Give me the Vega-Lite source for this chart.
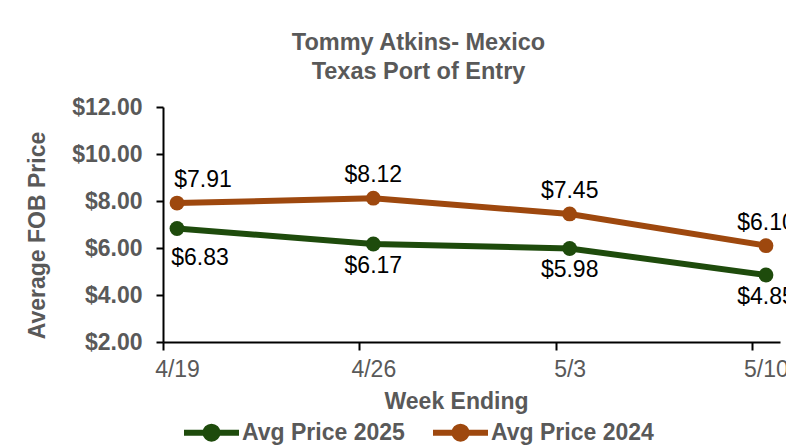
{
  "$schema": "https://vega.github.io/schema/vega-lite/v6.json",
  "width": 617,
  "height": 235,
  "autosize": {"type": "none"},
  "padding": {"left": 163, "top": 107, "right": 6, "bottom": 104},
  "background": "white",
  "config": {
    "view": {"stroke": null},
    "font": "Liberation Sans"
  },
  "title": {
    "text": ["Tommy Atkins- Mexico", "Texas Port of Entry"],
    "font": "Liberation Sans",
    "fontSize": 23.5,
    "fontWeight": "bold",
    "color": "#595959",
    "anchor": "middle",
    "frame": "group",
    "dx": -53,
    "offset": 13,
    "lineHeight": 28.5
  },
  "data": {
    "values": [
      {"week": "2025-04-19", "series": "Avg Price 2025", "price": 6.83},
      {"week": "2025-04-26", "series": "Avg Price 2025", "price": 6.17},
      {"week": "2025-05-03", "series": "Avg Price 2025", "price": 5.98},
      {"week": "2025-05-10", "series": "Avg Price 2025", "price": 4.85},
      {"week": "2025-04-19", "series": "Avg Price 2024", "price": 7.91},
      {"week": "2025-04-26", "series": "Avg Price 2024", "price": 8.12},
      {"week": "2025-05-03", "series": "Avg Price 2024", "price": 7.45},
      {"week": "2025-05-10", "series": "Avg Price 2024", "price": 6.10}
    ]
  },
  "encoding": {
    "x": {
      "field": "week",
      "type": "temporal",
      "scale": {"type": "utc", "domain": [1744977600000, 1746878400000]},
      "axis": {
        "values": [1744977600000, 1745582400000, 1746187200000, 1746792000000],
        "labelExpr": "utcFormat(time(datum.value) + 43200000, '%-m/%-d')",
        "labelOffset": 14,
        "labelFlush": false,
        "labelOverlap": false,
        "labelBound": false,
        "labelFont": "Liberation Sans",
        "labelFontSize": 23,
        "labelColor": "#595959",
        "labelPadding": 8,
        "grid": false,
        "domainColor": "#000000",
        "domainWidth": 2,
        "tickColor": "#000000",
        "tickWidth": 2,
        "tickSize": 8,
        "title": "Week Ending",
        "titleFont": "Liberation Sans",
        "titleFontSize": 23,
        "titleFontWeight": "bold",
        "titleColor": "#595959",
        "titleX": 293,
        "titleY": 59,
        "titleBaseline": "middle",
        "titleAnchor": "middle",
        "titleAlign": "center"
      }
    },
    "y": {
      "field": "price",
      "type": "quantitative",
      "scale": {"domain": [2, 12], "nice": false, "zero": false},
      "axis": {
        "values": [2, 4, 6, 8, 10, 12],
        "format": "$.2f",
        "labelFont": "Liberation Sans",
        "labelFontSize": 23,
        "labelFontWeight": "bold",
        "labelColor": "#595959",
        "labelPadding": 14,
        "grid": false,
        "domainColor": "#000000",
        "domainWidth": 2,
        "tickColor": "#000000",
        "tickWidth": 2,
        "tickSize": 7,
        "title": "Average FOB Price",
        "titleFont": "Liberation Sans",
        "titleFontSize": 23,
        "titleFontWeight": "bold",
        "titleColor": "#595959",
        "titleX": -126,
        "titleY": 128,
        "titleBaseline": "middle",
        "titleAlign": "center",
        "titleAngle": -90
      }
    },
    "color": {
      "field": "series",
      "type": "nominal",
      "scale": {"domain": ["Avg Price 2025", "Avg Price 2024"], "range": ["#1E4B0C", "#9E480E"]},
      "legend": {
        "orient": "none",
        "legendX": 18,
        "legendY": 295,
        "direction": "horizontal",
        "title": null,
        "labelFont": "Liberation Sans",
        "labelFontSize": 23,
        "labelFontWeight": "bold",
        "labelColor": "#595959",
        "labelLimit": 300,
        "labelOffset": 0,
        "columnPadding": 16,
        "symbolType": "M-1,0L1,0M-0.22,0A0.22,0.22,0,1,0,0.22,0A0.22,0.22,0,1,0,-0.22,0Z",
        "symbolSize": 3025,
        "symbolStrokeWidth": 6,
        "encode": {
          "symbols": {
            "update": {
              "fill": {"scale": "color", "field": "value"},
              "stroke": {"scale": "color", "field": "value"},
              "opacity": {"value": 1}
            }
          }
        }
      }
    }
  },
  "layer": [
    {"mark": {"type": "line", "strokeWidth": 6}},
    {"mark": {"type": "point", "filled": true, "size": 220, "opacity": 1}},
    {
      "transform": [{"filter": "datum.series === 'Avg Price 2024' && utcdate(datum.week) == 19"}],
      "mark": {"type": "text", "fontSize": 23, "font": "Liberation Sans", "dx": 26, "dy": -23, "color": "#000000"},
      "encoding": {"text": {"field": "price", "format": "$.2f"}, "color": {"value": "#000000"}}
    },
    {
      "transform": [{"filter": "datum.series === 'Avg Price 2024' && utcdate(datum.week) != 19"}],
      "mark": {"type": "text", "fontSize": 23, "font": "Liberation Sans", "dy": -23, "color": "#000000"},
      "encoding": {"text": {"field": "price", "format": "$.2f"}, "color": {"value": "#000000"}}
    },
    {
      "transform": [{"filter": "datum.series === 'Avg Price 2025' && utcdate(datum.week) == 19"}],
      "mark": {"type": "text", "fontSize": 23, "font": "Liberation Sans", "dx": 23, "dy": 30, "color": "#000000"},
      "encoding": {"text": {"field": "price", "format": "$.2f"}, "color": {"value": "#000000"}}
    },
    {
      "transform": [{"filter": "datum.series === 'Avg Price 2025' && utcdate(datum.week) != 19"}],
      "mark": {"type": "text", "fontSize": 23, "font": "Liberation Sans", "dy": 22, "color": "#000000"},
      "encoding": {"text": {"field": "price", "format": "$.2f"}, "color": {"value": "#000000"}}
    }
  ]
}
